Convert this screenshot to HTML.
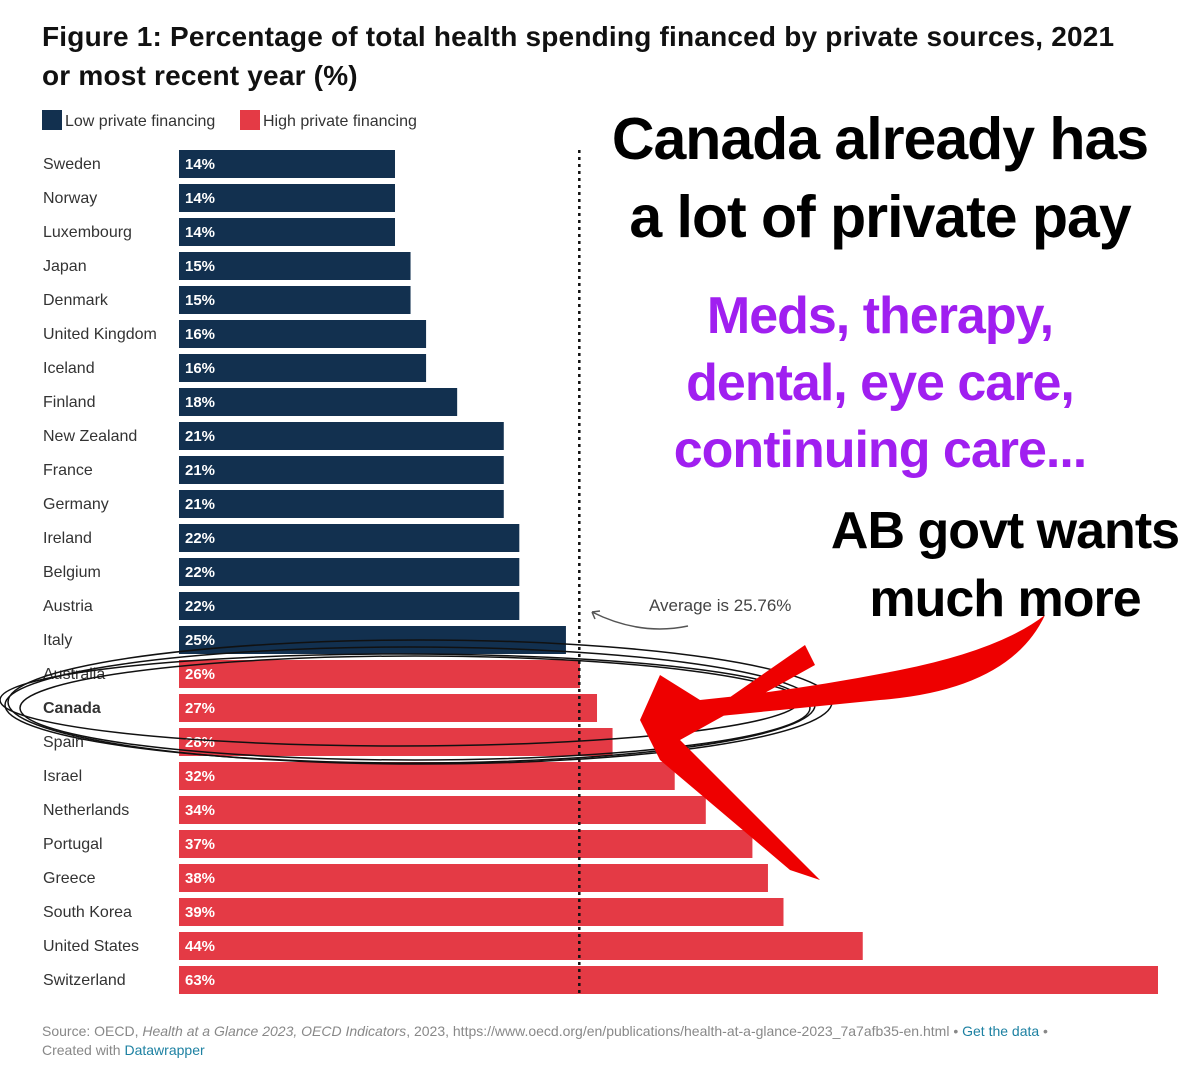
<!DOCTYPE html>
<html><head><meta charset="utf-8"><style>
body{margin:0;width:1200px;height:1065px;background:#fff;overflow:hidden;font-family:"Liberation Sans",sans-serif;position:relative}
.t{position:absolute;white-space:nowrap}
</style></head><body>
<div class="t" style="left:42px;top:17px;font-size:28px;font-weight:bold;color:#111;line-height:39px;letter-spacing:0.2px">Figure 1: Percentage of total health spending financed by private sources, 2021<br>or most recent year (%)</div>
<div class="t" style="left:42px;top:110px;font-size:16px;color:#333"><span style="display:inline-block;width:20px;height:20px;background:#12304f;vertical-align:-4px;margin-right:3px"></span>Low private financing</div>
<div class="t" style="left:240px;top:110px;font-size:16px;color:#333"><span style="display:inline-block;width:20px;height:20px;background:#e43a45;vertical-align:-4px;margin-right:3px"></span>High private financing</div>
<svg id="chart" width="1200" height="1065" style="position:absolute;left:0;top:0"></svg>
<div class="t" style="left:594px;top:100px;font-size:59px;font-weight:bold;color:#000;line-height:78px;text-align:center;width:572px;letter-spacing:-1px">Canada already has<br>a lot of private pay</div>
<div class="t" style="left:630px;top:283px;font-size:52px;font-weight:bold;color:#a01ff0;line-height:67px;text-align:center;width:500px;letter-spacing:-1px">Meds, therapy,<br>dental, eye care,<br>continuing care...</div>
<div class="t" style="left:815px;top:497px;font-size:52px;font-weight:bold;color:#000;line-height:68px;text-align:center;width:380px;letter-spacing:-1px">AB govt wants<br>much more</div>
<div class="t" style="left:42px;top:1022px;font-size:14px;color:#888;line-height:19px">Source: OECD, <i>Health at a Glance 2023, OECD Indicators</i>, 2023, https://www.oecd.org/en/publications/health-at-a-glance-2023_7a7afb35-en.html • <span style="color:#1d81a2">Get the data</span> •<br>Created with <span style="color:#1d81a2">Datawrapper</span></div>
<script>
const countries=["Sweden","Norway","Luxembourg","Japan","Denmark","United Kingdom","Iceland","Finland","New Zealand","France","Germany","Ireland","Belgium","Austria","Italy","Australia","Canada","Spain","Israel","Netherlands","Portugal","Greece","South Korea","United States","Switzerland"];
const values=[13.9,13.9,13.9,14.9,14.9,15.9,15.9,17.9,20.9,20.9,20.9,21.9,21.9,21.9,24.9,25.8,26.9,27.9,31.9,33.9,36.9,37.9,38.9,44,63];
const labels=["14%","14%","14%","15%","15%","16%","16%","18%","21%","21%","21%","22%","22%","22%","25%","26%","27%","28%","32%","34%","37%","38%","39%","44%","63%"];
const average=25.76;
const NS="http://www.w3.org/2000/svg";
const svg=document.getElementById('chart');
const x0=179,pxPer=(1158-179)/63;
const xs=v=>x0+v*pxPer;
const ys=i=>150+i*34;
function mk(t,a){const e=document.createElementNS(NS,t);for(const k in a)e.setAttribute(k,a[k]);svg.appendChild(e);return e;}
countries.forEach((c,i)=>{
 const r=mk('rect',{x:x0,y:ys(i),width:xs(values[i])-x0,height:28,fill:values[i]>average?'#e43a45':'#12304f'});
 
 
 const l=mk('text',{x:43,y:ys(i)+19,'font-size':16,fill:'#333','font-weight':c==='Canada'?'bold':'normal'});
 l.textContent=c;
 
 
 const v=mk('text',{x:185,y:ys(i)+19,'font-size':15,fill:'#fff','font-weight':'bold'});
 v.textContent=labels[i];
 
 
});
const al=mk('line',{x1:xs(average),x2:xs(average),y1:150,y2:995,stroke:'#111','stroke-width':2.5,'stroke-dasharray':'3,4'});


const at=mk('text',{x:649,y:611,'font-size':17,fill:'#444'});at.textContent='Average is 25.76%';


const ac=mk('path',{d:'M688 626 Q640 636 592 612 M592 612 l8 -1 M592 612 l3 7',stroke:'#555','stroke-width':1.5,fill:'none'});


[[410,705,405,58],[415,708,395,52],[420,702,412,62],[400,700,400,46]].forEach(e=>{
 const el=mk('ellipse',{cx:e[0],cy:e[1],rx:e[2],ry:e[3],fill:'none',stroke:'#111','stroke-width':1.5});
 
 
});
const ar=mk('path',{d:'M1045 615 Q1010 690 880 700 Q760 712 700 718 L805 645 L815 665 L680 740 L820 880 L790 870 L660 760 L640 720 L660 675 L700 700 Q800 690 900 670 Q1000 650 1045 615 Z',fill:'#e00'});


</script>
</body></html>
